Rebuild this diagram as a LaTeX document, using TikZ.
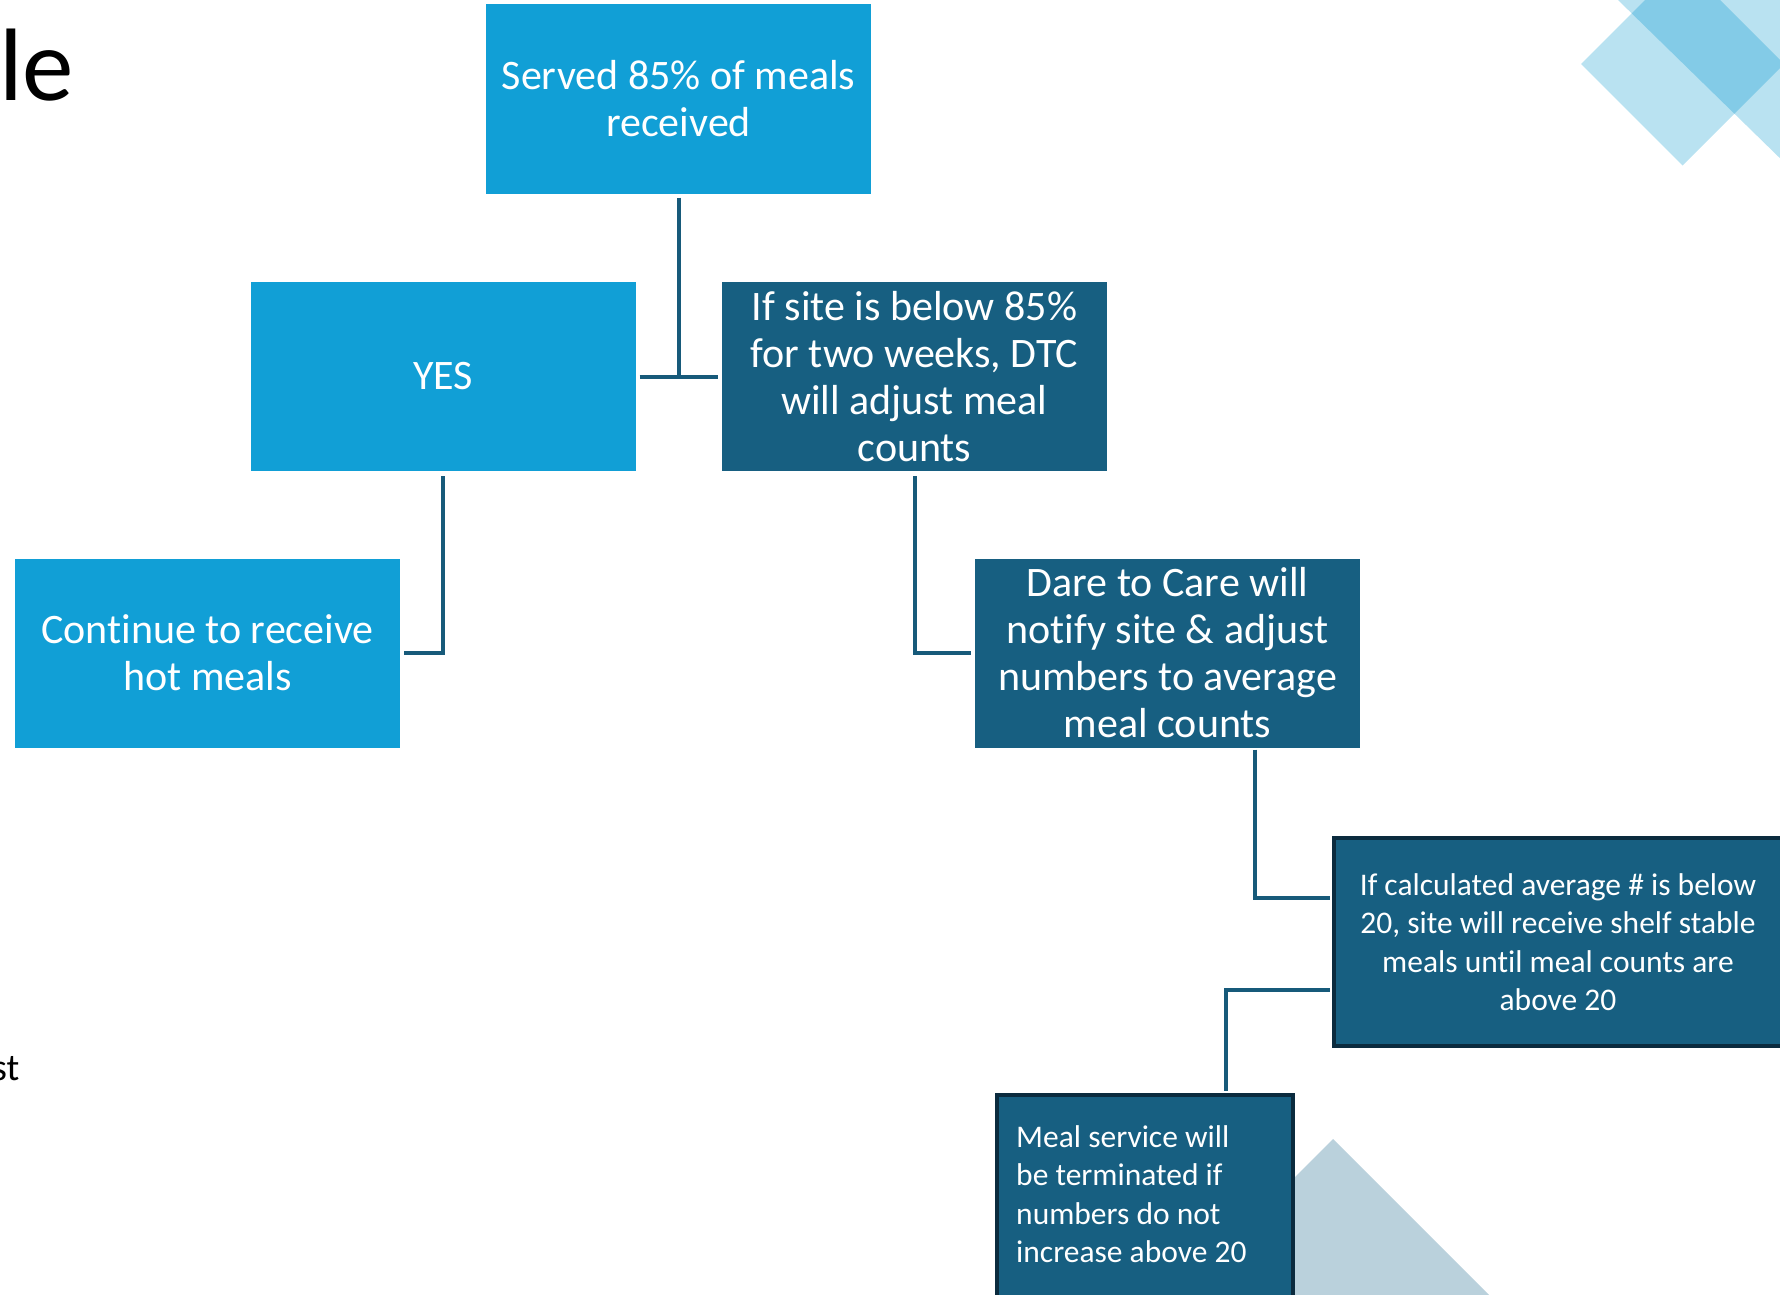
\documentclass[tikz,border=0pt]{standalone}
\usepackage{fontspec}
\setmainfont{Carlito}[Ligatures=NoCommon]
\definecolor{lightbox}{HTML}{119FD6}
\definecolor{darkbox}{HTML}{175F81}
\definecolor{boxborder}{HTML}{0B2B3E}
\definecolor{connc}{HTML}{175A7A}
\definecolor{diamA}{HTML}{B9E2F1}
\definecolor{diamAB}{HTML}{83CBE7}
\definecolor{tri}{HTML}{BAD1DC}
\tikzset{
  bigbox/.style={inner sep=0pt, minimum width=385pt, minimum height=189pt, text=white, align=center,
     font=\fontsize{42}{47}\selectfont},
  lbox/.style={bigbox, fill=lightbox},
  dbox/.style={bigbox, fill=darkbox},
  conn/.style={draw=connc, line width=4pt},
}
\begin{document}
\begin{tikzpicture}[x=1pt,y=-1pt]
\useasboundingbox (0,0) rectangle (1780,1295);
\begin{scope}
\clip (0,0) rectangle (1780,1295);
% decorations
\fill[diamA] (1581,64) -- (1682.6,-37.5) -- (1784,64) -- (1682.6,165.5) -- cycle;
\fill[diamA] (1618,0) -- (1790,168) -- (1790,-10) -- (1608,-10) -- cycle;
\begin{scope}
\clip (1581,64) -- (1682.6,-37.5) -- (1784,64) -- (1682.6,165.5) -- cycle;
\fill[diamAB] (1618,0) -- (1790,168) -- (1790,-10) -- (1608,-10) -- cycle;
\end{scope}
\fill[tri] (1333,1139) -- (1180,1292) -- (1180,1300) -- (1495,1300) -- (1489,1295) -- cycle;

% title fragments
\node[anchor=base west, inner sep=0pt, font=\fontsize{103}{103}\selectfont] (title) at (-1,101) {le};
\node[anchor=base west, inner sep=0pt, font=\fontsize{38}{38}\selectfont] (frag) at (-8,1080) {st};

% boxes
\node[lbox] (served) at (678.5,99) {Served 85\% of meals\\received};
\node[lbox] (yes) at (443,376.5) {YES};
\node[dbox] (ifsite) at (914.5,376.5) {If site is below 85\%\\for two weeks, DTC\\will adjust meal\\counts};
\node[lbox] (cont) at (207.5,653) {Continue to receive\\hot meals};
\node[dbox] (dare) at (1167.5,653) {Dare to Care will\\notify site \& adjust\\numbers to average\\meal counts};
\node[draw=boxborder, line width=4pt, fill=darkbox, inner sep=0pt, minimum width=449pt, minimum height=208pt,
      text=white, align=center, font=\fontsize{31.5}{38.5}\selectfont] (ifcalc) at (1558,942)
      {If calculated average \# is below\\20, site will receive shelf stable\\meals until meal counts are\\above 20};
\node[draw=boxborder, line width=4pt, fill=darkbox, inner sep=0pt, minimum width=296pt, minimum height=220pt,
      anchor=north west] (meal) at (995,1093) {};
\node[anchor=base west, inner sep=0pt, text=white, align=left, font=\fontsize{31.5}{38.5}\selectfont] (mealtxt)
      at (1016,1262.5) {Meal service will\\be terminated if\\numbers do not\\increase above 20};
\end{scope}

% connectors
\draw[conn] ([yshift=-4pt]served.south) -- (served.south |- yes.east);
\draw[conn] ([xshift=4pt]yes.east) -- ([xshift=-4pt]ifsite.west);
\draw[conn] ([yshift=-5pt]yes.south) |- ([xshift=4pt]cont.east);
\draw[conn] ([yshift=-5pt]ifsite.south) |- ([xshift=-4pt]dare.west);
\draw[conn] ([xshift=87.5pt,yshift=-2pt]dare.south) |- ([yshift=44pt,xshift=-2pt]ifcalc.west);
\draw[conn] ([yshift=-48pt,xshift=-2pt]ifcalc.west) -| ([xshift=81pt,yshift=2pt]meal.north);
\end{tikzpicture}
\end{document}
